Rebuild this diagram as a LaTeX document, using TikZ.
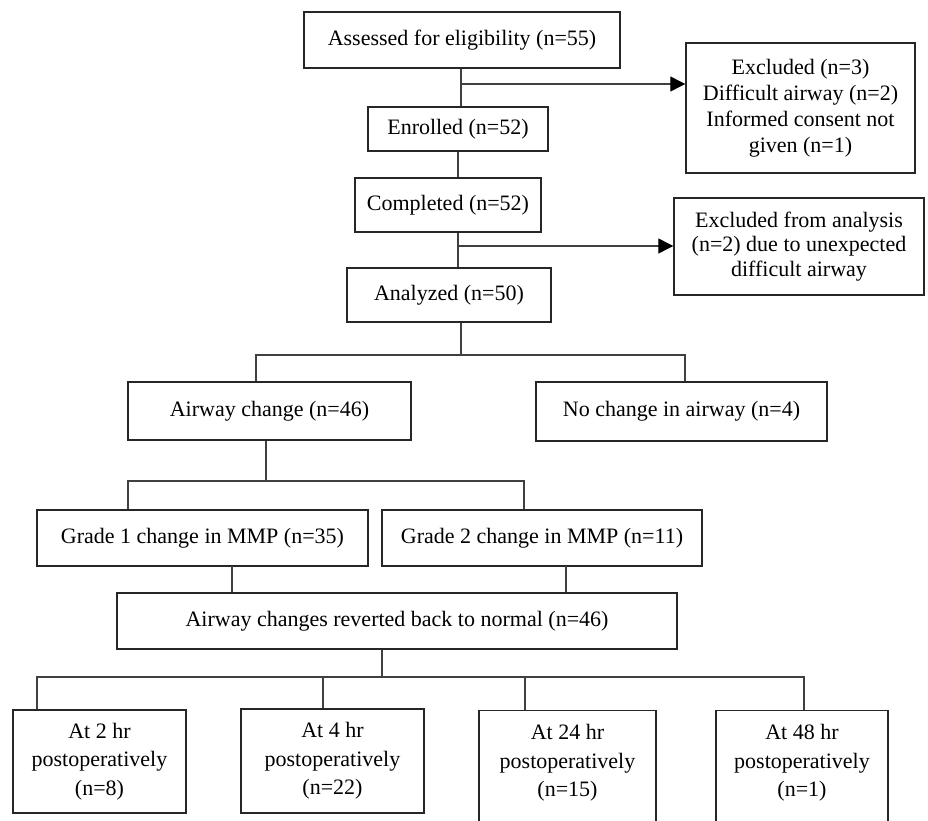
\documentclass[tikz,border=0pt]{standalone}
\usepackage{fontspec}
\setmainfont{Liberation Serif}
\usetikzlibrary{arrows.meta}
\begin{document}
\begin{tikzpicture}[x=1pt,y=-1pt,
  box/.style={draw=black!85, line width=1.4pt, inner sep=0pt, align=center,
              font=\fontsize{22}{26}\selectfont, text=black},
  txt/.style={inner sep=0pt, align=center, text=black},
  conn/.style={draw=black!75, line width=1.2pt},
  arr/.style={conn, -{Triangle[length=15pt,width=15pt,fill=black,color=black]}}]
\clip (0,0) rectangle (928,821);
\fill[white] (0,0) rectangle (928,821);

% boxes
\node[box, minimum width=316pt, minimum height=56pt] (assess) at (462,40) {Assessed for eligibility (n=55)};
\node[box, minimum width=229pt, minimum height=130pt] (excl1) at (800.5,108) {Excluded (n=3)\\Difficult airway (n=2)\\Informed consent not\\given (n=1)};
\node[box, minimum width=180pt, minimum height=44pt] (enrolled) at (458,129) {Enrolled (n=52)};
\node[box, minimum width=186pt, minimum height=54pt] (completed) at (448,205) {Completed (n=52)};
\node[box, minimum width=250pt, minimum height=97pt, font=\fontsize{22}{24.5}\selectfont] (excl2) at (799,246.5) {Excluded from analysis\\(n=2) due to unexpected\\difficult airway};
\node[box, minimum width=204pt, minimum height=54pt] (analyzed) at (449,295) {Analyzed (n=50)};
\node[box, minimum width=283pt, minimum height=58pt] (airway) at (269.5,411) {Airway change (n=46)};
\node[box, minimum width=291pt, minimum height=59pt] (nochange) at (681.5,411.5) {No change in airway (n=4)};
\node[box, minimum width=331pt, minimum height=56pt] (grade1) at (202.5,538) {Grade 1 change in MMP (n=35)};
\node[box, minimum width=320pt, minimum height=56pt] (grade2) at (542,538) {Grade 2 change in MMP (n=11)};
\node[box, minimum width=560pt, minimum height=56pt] (reverted) at (397,621) {Airway changes reverted back to normal (n=46)};
\node[box, minimum width=173pt, minimum height=103pt, font=\fontsize{22}{28.5}\selectfont] (at2) at (99.5,761.5) {At 2 hr\\postoperatively\\(n=8)};
\node[box, minimum width=183pt, minimum height=104pt, font=\fontsize{22}{28.5}\selectfont] (at4) at (332.5,761) {At 4 hr\\postoperatively\\(n=22)};
\node[box, minimum width=177pt, minimum height=130pt, anchor=north] (at24) at (567.5,710) {};
\node[txt, font=\fontsize{22}{28.5}\selectfont] (at24t) at (567.5,763) {At 24 hr\\postoperatively\\(n=15)};
\node[box, minimum width=172pt, minimum height=130pt, anchor=north] (at48) at (802,710) {};
\node[txt, font=\fontsize{22}{28.5}\selectfont] (at48t) at (802,763) {At 48 hr\\postoperatively\\(n=1)};

% junction coordinates
\coordinate (j1) at (461,84);
\coordinate (j2) at (458,129);
\coordinate (j3) at (458,246);
\coordinate (j4) at (461,355);
\coordinate (l4) at (256,355);
\coordinate (r4) at (685,355);
\coordinate (j5) at (266,481);
\coordinate (l5) at (128,481);
\coordinate (r5) at (524,481);
\coordinate (g1) at (232,566);
\coordinate (g2) at (566,566);
\coordinate (j6) at (382,677);
\coordinate (b1) at (37,677);
\coordinate (b2) at (323,677);
\coordinate (b3) at (525,677);
\coordinate (b4) at (804,677);

% connectors
\draw[conn] (assess.south -| j1) -- (enrolled.north -| j1);
\draw[arr] (j1) -- (excl1.west |- j1);
\draw[conn] (enrolled.south -| j2) -- (completed.north -| j2);
\draw[conn] (completed.south -| j3) -- (analyzed.north -| j3);
\draw[arr] (j3) -- (excl2.west |- j3);
\draw[conn] (analyzed.south -| j4) -- (j4);
\draw[conn] (airway.north -| l4) -- (l4) -- (r4) -- (nochange.north -| r4);
\draw[conn] (airway.south -| j5) -- (j5);
\draw[conn] (grade1.north -| l5) -- (l5) -- (r5) -- (grade2.north -| r5);
\draw[conn] (g1) -- (reverted.north -| g1);
\draw[conn] (g2) -- (reverted.north -| g2);
\draw[conn] (reverted.south -| j6) -- (j6);
\draw[conn] (at2.north -| b1) -- (b1) -- (b4) -- (at48.north -| b4);
\draw[conn] (b2) -- (at4.north -| b2);
\draw[conn] (b3) -- (at24.north -| b3);
\end{tikzpicture}
\end{document}
